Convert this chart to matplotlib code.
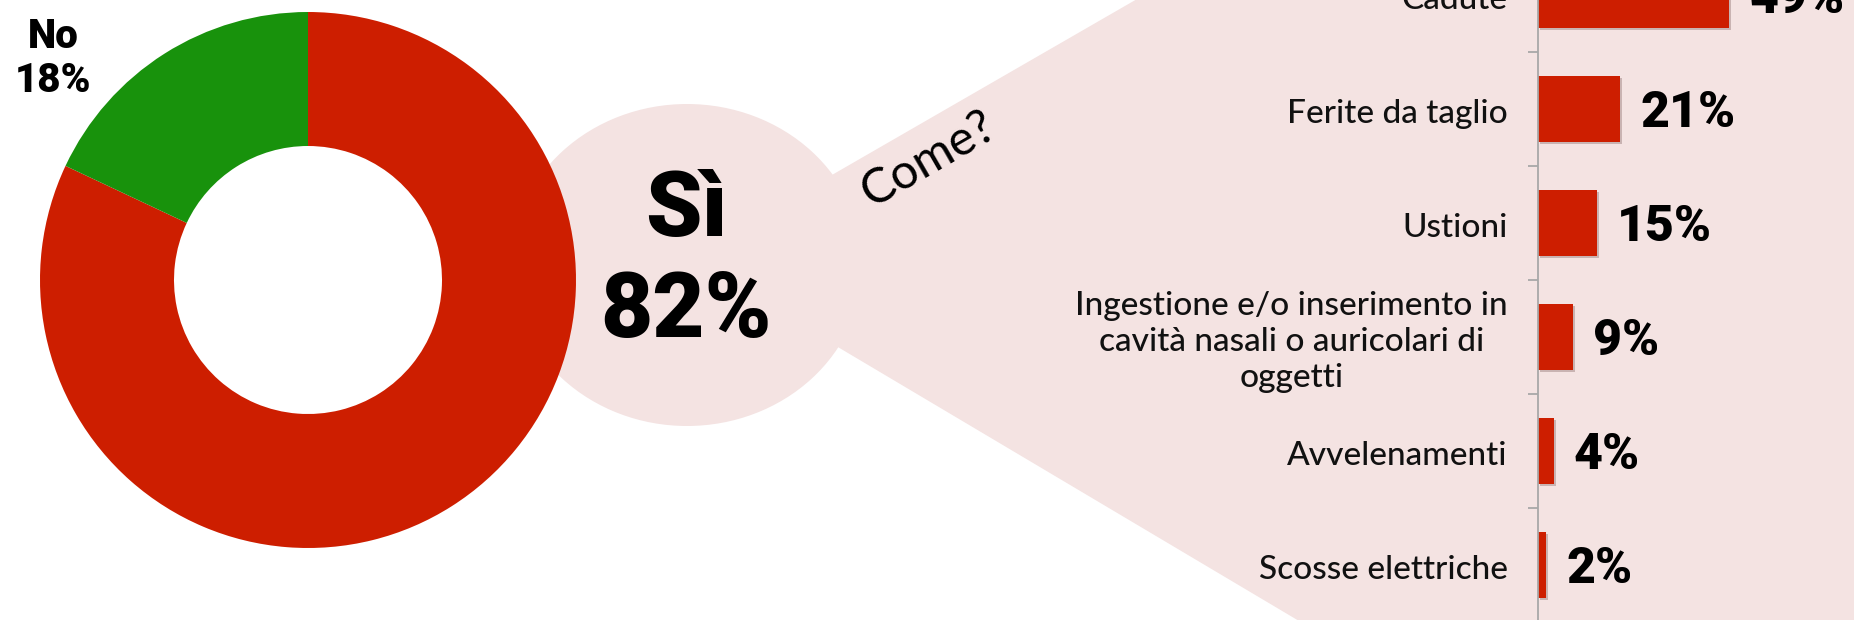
import matplotlib
matplotlib.use("Agg")
import matplotlib.pyplot as plt
from matplotlib import patheffects
from matplotlib.patches import Ellipse, Polygon

# ---------------------------------------------------------------------------
# Data
# ---------------------------------------------------------------------------
answer_labels = ["Sì", "No"]
answer_values = [82, 18]

categories = [
    "Cadute",
    "Ferite da taglio",
    "Ustioni",
    "Ingestione e/o inserimento in\ncavità nasali o auricolari di\noggetti",
    "Avvelenamenti",
    "Scosse elettriche",
]
shares = [49, 21, 15, 9, 4, 2]

# ---------------------------------------------------------------------------
# Style
# ---------------------------------------------------------------------------
RED = "#CD1E00"
GREEN = "#18920C"
PINK = "#F4E3E2"
AXIS_GREY = "#A8A8A8"
W, H = 1854, 620

fig = plt.figure(figsize=(W / 100, H / 100), dpi=100, facecolor="white")

# background layer in pixel coordinates: pink bubble + wedge toward the bars
bg = fig.add_axes([0, 0, 1, 1])
bg.set_xlim(0, W)
bg.set_ylim(H, 0)
bg.axis("off")
bg.add_patch(Ellipse((687, 265), 352, 322, facecolor=PINK, lw=0))
bg.add_patch(Polygon([(688, 258), (1900, -441), (1900, 978)], facecolor=PINK, lw=0))

big = dict(family="Roboto", fontweight="black", color="black", ha="center", va="baseline")
bg.text(686, 236, answer_labels[0], fontsize=65, **big)
bg.text(686, 337, f"{answer_values[0]}%", fontsize=65, **big)
bg.text(53, 48, answer_labels[1], fontsize=29, **big)
bg.text(53, 92, f"{answer_values[1]}%", fontsize=29, **big)

bg.text(929, 159, "Come?", rotation=30, rotation_mode="anchor", ha="center", va="center",
        fontsize=35, family="Lato", fontweight="normal", color="black")

# ---------------------------------------------------------------------------
# Donut
# ---------------------------------------------------------------------------
cx, cy, r = 308, 280, 268
ax_pie = fig.add_axes([(cx - r) / W, (H - cy - r) / H, 2 * r / W, 2 * r / H])
ax_pie.pie(answer_values, colors=[RED, GREEN], startangle=90, counterclock=False,
           radius=1, wedgeprops=dict(width=0.5, linewidth=0))
ax_pie.set_xlim(-1, 1)
ax_pie.set_ylim(-1, 1)
ax_pie.axis("off")

# ---------------------------------------------------------------------------
# Horizontal bars
# ---------------------------------------------------------------------------
x0 = 1538.3
ax = fig.add_axes([x0 / W, 0, (W - x0) / W, 1])
ax.patch.set_visible(False)
ypos = list(range(len(categories)))
bars = ax.barh(ypos, shares, height=0.58, color=RED, lw=0)
for b in bars:
    b.set_path_effects([
        patheffects.SimplePatchShadow(offset=(1.5, -1.5), shadow_rgbFace="#7a5a5a", alpha=0.35),
        patheffects.Normal(),
    ])

ax.set_xlim(0, 81)
ax.set_ylim(5.485, 0.041)
for side in ("top", "right", "bottom"):
    ax.spines[side].set_visible(False)
ax.spines["left"].set_color(AXIS_GREY)
ax.spines["left"].set_linewidth(1.3)
ax.set_xticks([])
ax.set_yticks([])
ax.set_yticks([i + 0.5 for i in ypos[:-1]], minor=True)
ax.tick_params(axis="y", which="minor", length=7.5, width=1.3, color=AXIS_GREY)

for i, (cat, v) in enumerate(zip(categories, shares)):
    ax.annotate(cat, xy=(0, i), xycoords=("axes fraction", "data"),
                xytext=(-22, -3.6), textcoords="offset points",
                ha="right", va="center", multialignment="center",
                fontsize=24, family="Lato", fontweight=500, color="#111111",
                linespacing=1.25, annotation_clip=False)
    ax.annotate(f"{v}%", xy=(v, i), xytext=(14.4, -12.9), textcoords="offset points",
                ha="left", va="baseline", fontsize=36, family="Roboto",
                fontweight="black", color="black", annotation_clip=False)

fig.savefig("out.png", dpi=100, facecolor="white")
